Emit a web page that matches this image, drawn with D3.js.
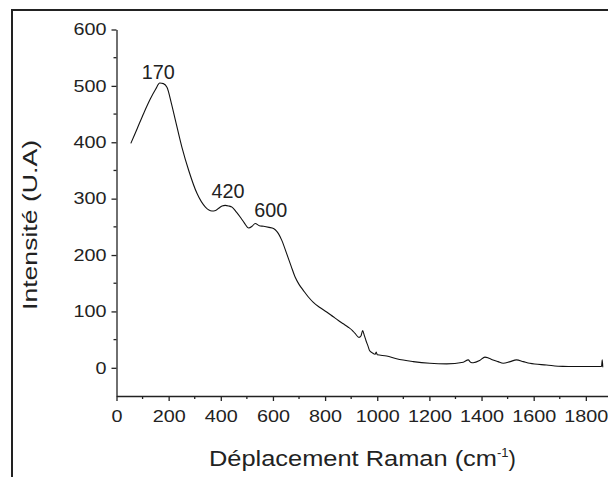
<!DOCTYPE html>
<html>
<head>
<meta charset="utf-8">
<script src="https://cdn.jsdelivr.net/npm/d3@7"></script>
<style>
  body { margin: 0; background: #fff; }
  svg text { font-family: "Liberation Sans", Arial, sans-serif; fill: #222; }
</style>
</head>
<body>
<div id="chart"></div>
<script>
// Raman spectrum
var ramanShift = [55, 80, 105, 130, 150, 166, 180, 194, 210, 226, 251, 277, 309, 341, 366, 380, 392, 405, 417, 430, 443, 460, 475, 490, 507, 520, 532, 548, 564, 585, 602, 613, 621, 634, 653, 670, 685, 700, 717, 735, 755, 780, 806, 830, 851, 870, 889, 905, 915, 930, 938, 944, 950, 957, 965, 970, 980, 992, 996, 1000, 1036, 1074, 1138, 1202, 1266, 1330, 1349, 1358, 1368, 1393, 1413, 1428, 1444, 1463, 1483, 1510, 1534, 1560, 1585, 1649, 1712, 1789, 1860, 1863, 1865]
var intensity = [398, 425, 452, 477, 494, 505, 504, 497, 470, 439, 391, 350, 309, 285, 278, 279, 283, 287, 288, 287, 285, 276, 267, 257, 248, 251, 256, 252, 251, 249, 247, 243, 238, 226, 202, 180, 161, 148, 137, 126, 116, 107, 99, 91, 84, 78, 72, 66, 61, 54, 57, 66, 58, 48, 38, 31, 27, 24, 28, 23, 21, 16, 11, 8, 7, 10, 14, 10, 9, 13, 19, 17, 14, 11, 8, 11, 14, 11, 8, 5, 2.5, 2.3, 2.3, 14, 1]

// peak annotations
var peakLabels = ["170", "420", "600"]
var peakX = [160, 428, 592]
var peakY = [512, 301, 267]

var yTicks = [0, 100, 200, 300, 400, 500, 600]
var xTicks = [0, 200, 400, 600, 800, 1000, 1200, 1400, 1600, 1800]

var width = 608, height = 477

var svg = d3.select("#chart")
  .append("svg")
  .attr("width", width)
  .attr("height", height)

// outer frame (runs off the right / bottom edge)
svg.append("rect")
  .attr("x", 12).attr("y", 10)
  .attr("width", 700).attr("height", 600)
  .attr("fill", "none")
  .attr("stroke", "#222")
  .attr("stroke-width", 2)

var x = d3.scaleLinear().domain([0, 1885]).range([116.5, 608])
var y = d3.scaleLinear().domain([-50, 600]).range([396, 29.5])

// minor ticks
var xMinor = d3.range(100, 1900, 200)
var yMinor = d3.range(-50, 600, 100).filter(function(d){ return d > -50 })

var gx = svg.append("g")
  .attr("transform", "translate(0," + y(-50) + ")")
gx.call(d3.axisBottom(x).tickValues(xTicks).tickSize(5).tickSizeOuter(0).tickFormat(d3.format("d")))
gx.selectAll("g.minor")
  .data(xMinor)
  .enter().append("line")
  .attr("x1", function(d){ return x(d) }).attr("x2", function(d){ return x(d) })
  .attr("y1", 0).attr("y2", 3)
  .attr("stroke", "#222").attr("stroke-width", 1.3)

var gy = svg.append("g")
  .attr("transform", "translate(" + x(0) + ",0)")
gy.call(d3.axisLeft(y).tickValues(yTicks).tickSize(5).tickSizeOuter(0))
gy.selectAll("g.minor")
  .data(yMinor)
  .enter().append("line")
  .attr("y1", function(d){ return y(d) }).attr("y2", function(d){ return y(d) })
  .attr("x1", 0).attr("x2", -3)
  .attr("stroke", "#222").attr("stroke-width", 1.3)

svg.selectAll(".domain, .tick line")
  .attr("stroke", "#222").attr("stroke-width", 1.3)
// tick labels in the picture are wider than plain Arial, so stretch them
svg.selectAll(".tick text")
  .style("font-size", "16.5px")
  .attr("fill", "#222")
  .attr("lengthAdjust", "spacingAndGlyphs")
  .attr("textLength", function(d){ return String(d).length * 11 })
gx.selectAll(".tick text").attr("dy", "1.1em")
gy.selectAll(".tick text").attr("x", -10)

// spectrum
var line = d3.line()
  .x(function(d, i){ return x(ramanShift[i]) })
  .y(function(d){ return y(d) })
  .curve(d3.curveMonotoneX)

svg.append("path")
  .datum(intensity)
  .attr("d", line)
  .attr("fill", "none")
  .attr("stroke", "#111")
  .attr("stroke-width", 1.1)

svg.selectAll("text.peak")
  .data(peakLabels)
  .enter().append("text")
  .attr("class", "peak")
  .attr("x", function(d, i){ return x(peakX[i]) })
  .attr("y", function(d, i){ return y(peakY[i]) })
  .attr("text-anchor", "middle")
  .attr("lengthAdjust", "spacingAndGlyphs")
  .attr("textLength", 33)
  .style("font-size", "21px")
  .text(function(d){ return d })

// axis titles
svg.append("text")
  .attr("transform", "translate(37,225) rotate(-90)")
  .attr("text-anchor", "middle")
  .attr("lengthAdjust", "spacingAndGlyphs")
  .attr("textLength", 170)
  .style("font-size", "21px")
  .text("Intensité (U.A)")

var xt = svg.append("text")
  .attr("x", 209)
  .attr("y", 466)
  .style("font-size", "22px")
xt.append("tspan")
  .attr("lengthAdjust", "spacingAndGlyphs")
  .attr("textLength", 288)
  .text("Déplacement Raman (cm")
xt.append("tspan").attr("dy", -9).style("font-size", "13px").text("-1")
xt.append("tspan").attr("dy", 9).text(")")
</script>
</body>
</html>
